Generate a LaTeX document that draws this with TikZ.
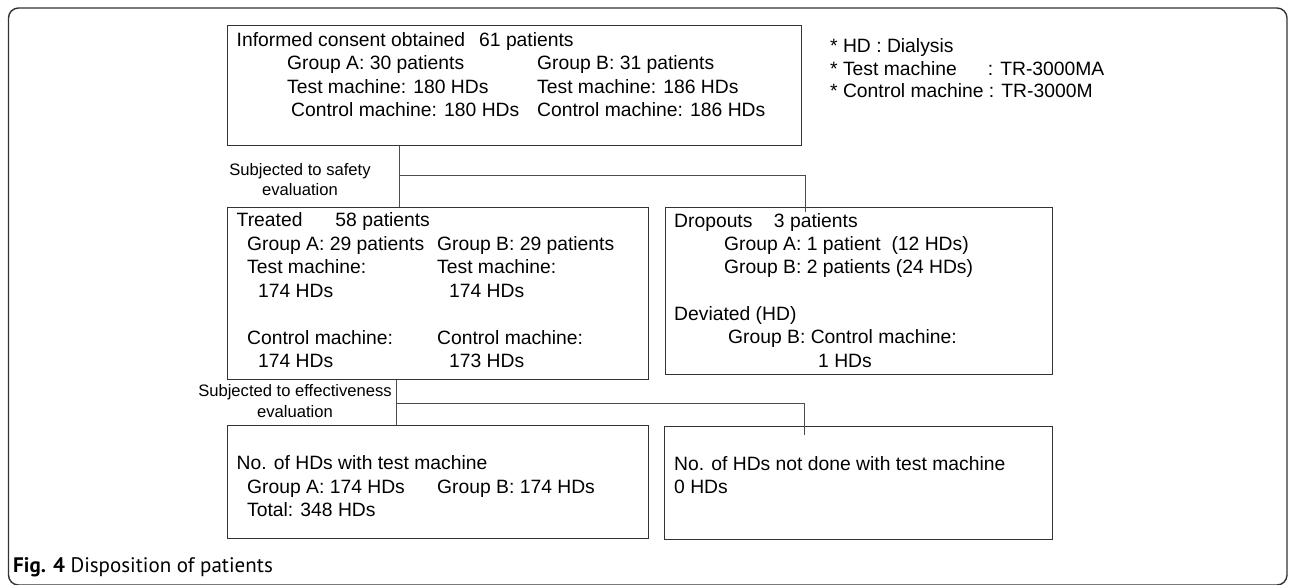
\documentclass[tikz,border=0pt]{standalone}
\usepackage{fontspec}
\setmainfont{Liberation Sans}
\newfontfamily\capfont{PT Sans}
\begin{document}
\begin{tikzpicture}[x=1pt, y=-1pt,
    box/.style={draw=black!80, line width=1.2pt, inner sep=0pt, anchor=north west},
    txt/.style={anchor=base west, inner sep=0pt, font=\fontsize{19.3}{23.5}\selectfont},
    small/.style={inner sep=0pt, align=center, font=\fontsize{16.6}{20.5}\selectfont},
    link/.style={draw=black!70, line width=1pt}]
    \useasboundingbox (0,0) rectangle (1290,584);
    \draw[black!80, line width=1.4pt, rounded corners=10pt] (8.5,8) rectangle (1287,585);

    % Boxes
    \node[box, minimum width=574pt, minimum height=120pt] (consent) at (227,25) {};
    \node[box, minimum width=421pt, minimum height=172pt] (treated) at (227,207) {};
    \node[box, minimum width=387pt, minimum height=167pt] (dropouts) at (665,207) {};
    \node[box, minimum width=421pt, minimum height=113pt] (withtest) at (227,425) {};
    \node[box, minimum width=388pt, minimum height=113pt] (notdone) at (664,426) {};

    % Informed consent
    \node[txt] (c0) at (236.5,46) {Informed consent obtained\hspace{14pt}61 patients};
    \node[txt] (c1) at (287,69.5) {Group A: 30 patients};
    \node[txt] (c2) at (537,69.5) {Group B: 31 patients};
    \node[txt] (c3) at (287,93) {Test machine: 180 HDs};
    \node[txt] (c4) at (537,93) {Test machine: 186 HDs};
    \node[txt] (c5) at (291,116.5) {Control machine: 180 HDs};
    \node[txt] (c6) at (537,116.5) {Control machine: 186 HDs};

    % Notes
    \node[txt] (n1) at (830,52) {* HD : Dialysis};
    \node[txt] (n2) at (830,75) {* Test machine\hspace{31pt}: TR-3000MA};
    \node[txt] (n3) at (830,97) {* Control machine : TR-3000M};

    % Treated
    \node[txt] (t0) at (236.5,226.5) {Treated\hspace{33pt}58 patients};
    \node[txt] (t1) at (247,250) {Group A: 29 patients};
    \node[txt] (t2) at (437,250) {Group B: 29 patients};
    \node[txt] (t3) at (247,273.5) {Test machine:};
    \node[txt] (t4) at (437,273.5) {Test machine:};
    \node[txt] (t5) at (258,297) {174 HDs};
    \node[txt] (t6) at (449,297) {174 HDs};
    \node[txt] (t7) at (247,344) {Control machine:};
    \node[txt] (t8) at (437,344) {Control machine:};
    \node[txt] (t9) at (258,367.5) {174 HDs};
    \node[txt] (t10) at (449,367.5) {173 HDs};

    % Dropouts
    \node[txt] (d0) at (674,227) {Dropouts\hspace{21.5pt}3 patients};
    \node[txt] (d1) at (724,250) {Group A: 1 patient\ \ (12 HDs)};
    \node[txt] (d2) at (724,273.5) {Group B: 2 patients (24 HDs)};
    \node[txt] (d3) at (674,320) {Deviated (HD)};
    \node[txt] (d4) at (728,343.5) {Group B: Control machine:};
    \node[txt] (d5) at (818,367) {1 HDs};

    % HDs with / without test machine
    \node[txt] (w0) at (236.5,469.5) {No. of HDs with test machine};
    \node[txt] (w1) at (247,493) {Group A: 174 HDs};
    \node[txt] (w2) at (437,493) {Group B: 174 HDs};
    \node[txt] (w3) at (247,516.5) {Total: 348 HDs};
    \node[txt] (x0) at (674,470) {No. of HDs not done with test machine};
    \node[txt] (x1) at (674,493.5) {0 HDs};

    % Flow lines
    \node[small] (safety) at (300,179.7) {Subjected to safety\\evaluation};
    \node[small] (effect) at (295,401) {Subjected to effectiveness\\evaluation};
    \coordinate (sfork) at (399.5,175);
    \coordinate (dropin) at (805,212);
    \coordinate (efork) at (396,403);
    \coordinate (notdonein) at (804.5,435);
    \draw[link] (consent.south -| sfork) -- (treated.north -| sfork);
    \draw[link] (sfork) -| (dropin);
    \draw[link] (treated.south -| efork) -- (withtest.north -| efork);
    \draw[link] (efork) -| (notdonein);

    % Caption
    \node[anchor=base west, inner sep=0pt, font=\capfont\fontsize{21}{22}\selectfont] (cap) at (13,572)
        {\textbf{Fig. 4} Disposition of patients};
\end{tikzpicture}
\end{document}
